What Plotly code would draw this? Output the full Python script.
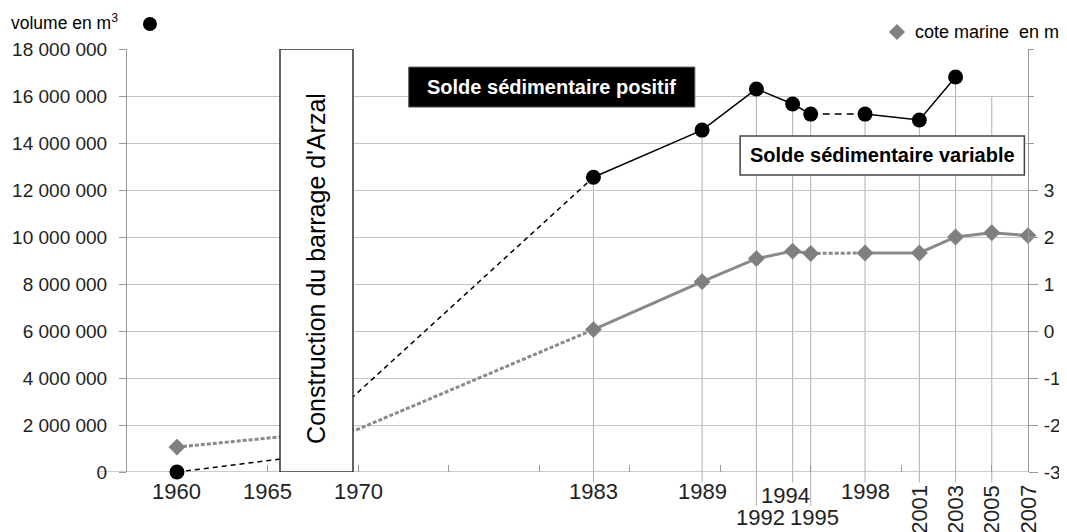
import plotly.graph_objects as go

# ---------------- data ----------------
vol_years = [1960, 1983, 1989, 1992, 1994, 1995, 1998, 2001, 2003]
vol_values = [0, 12540000, 14550000, 16300000, 15660000, 15230000, 15230000, 14980000, 16810000]
# vertex of the dashed link hidden behind the "Construction" box
vol_hidden_years = [1966]
vol_hidden_values = [580000]

cote_years = [1960, 1983, 1989, 1992, 1994, 1995, 1998, 2001, 2003, 2005, 2007]
cote_values = [-2.47, 0.03, 1.05, 1.54, 1.70, 1.65, 1.66, 1.66, 2.00, 2.09, 2.03]
cote_hidden_years = [1970]
cote_hidden_values = [-2.09]

y_tickvals = [0, 2000000, 4000000, 6000000, 8000000, 10000000, 12000000, 14000000, 16000000, 18000000]
y_ticktext = ["0", "2 000 000", "4 000 000", "6 000 000", "8 000 000", "10 000 000",
              "12 000 000", "14 000 000", "16 000 000", "18 000 000"]
y2_tickvals = [-3, -2, -1, 0, 1, 2, 3]
y2_ticktext = ["-3", "-2", "-1", "0", "1", "2", "3"]
y2_minor_ticks = [4, 5, 6]
x_minor_ticks = [1965, 1970, 1975, 1980, 1985, 1990, 1995, 2000, 2005]

xlabels_row1 = ["1960", "1965", "1970", "1983", "1989", "1998"]
xlabels_row1b = ["1994"]
xlabels_row2 = ["1992", "1995"]
xlabels_rot = ["2001", "2003", "2005", "2007"]

FONT = "Liberation Sans, Arial, sans-serif"
GRAY = "#7f7f7f"
LGRAY = "#8a8a8a"
GRID = "#c4c4c4"

fig = go.Figure()

def line(xs, ys, dash, color, width, yaxis):
    fig.add_trace(go.Scatter(
        x=xs, y=ys, mode="lines", yaxis=yaxis,
        line=dict(color=color, width=width, dash=dash), showlegend=False,
        hoverinfo="skip", cliponaxis=False))

# cote marine (right axis)
line([cote_years[0]] + cote_hidden_years + [cote_years[1]],
     [cote_values[0]] + cote_hidden_values + [cote_values[1]], "4px,2px", LGRAY, 3, "y2")
line(cote_years[1:6], cote_values[1:6], "solid", LGRAY, 3, "y2")
line(cote_years[5:7], cote_values[5:7], "4px,2px", LGRAY, 3, "y2")
line(cote_years[6:], cote_values[6:], "solid", LGRAY, 3, "y2")

# volume (left axis)
line([vol_years[0]] + vol_hidden_years + [vol_years[1]],
     [vol_values[0]] + vol_hidden_values + [vol_values[1]], "5px,4px", "black", 1.5, "y")
line(vol_years[1:6], vol_values[1:6], "solid", "black", 1.5, "y")
line(vol_years[5:7], vol_values[5:7], "7px,5px", "black", 1.5, "y")
line(vol_years[6:], vol_values[6:], "solid", "black", 1.5, "y")

shapes = []
# x-axis baseline
shapes.append(dict(type="line", xref="paper", yref="y", x0=-0.03, x1=1.0, y0=0, y1=0,
                   line=dict(color="#999999", width=1), layer="below"))
# vertical drop lines at measurement years
vol_map = dict(zip(vol_years, vol_values))
for yr in cote_years[1:-1]:
    top = vol_map.get(yr, 16000000)
    shapes.append(dict(type="line", xref="x", yref="y", x0=yr, x1=yr, y0=0, y1=top,
                       line=dict(color="#b0b0b0", width=1), layer="below"))
    ext = -0.08 if yr in (1992, 1995) else -0.025
    shapes.append(dict(type="line", xref="x", yref="paper", x0=yr, x1=yr, y0=0, y1=ext,
                       line=dict(color="#b0b0b0", width=1), layer="below"))

# Construction box (covers the dashed links)
shapes.append(dict(type="rect", xref="x", yref="y", x0=1965.69, x1=1969.72, y0=0, y1=18000000,
                   fillcolor="white", line=dict(color="#333333", width=1.5), layer="above"))
# Solde positif box
shapes.append(dict(type="rect", xref="x", yref="y", x0=1972.8, x1=1988.6, y0=15530000, y1=17230000,
                   fillcolor="black", line=dict(color="#555555", width=1), layer="above"))
# Solde variable box
shapes.append(dict(type="rect", xref="x", yref="y", x0=1991.1, x1=2006.8, y0=12640000, y1=14300000,
                   fillcolor="white", line=dict(color="#444444", width=1.5), layer="above"))

# legend markers
shapes.append(dict(type="circle", xref="paper", yref="paper", xsizemode="pixel", ysizemode="pixel",
                   xanchor=0.0255, yanchor=1.059, x0=-7, x1=7, y0=-7, y1=7,
                   fillcolor="black", line=dict(color="black", width=0)))
shapes.append(dict(type="path", xref="paper", yref="paper", xsizemode="pixel", ysizemode="pixel",
                   xanchor=0.8546, yanchor=1.040, path="M -8 0 L 0 8 L 8 0 L 0 -8 Z",
                   fillcolor=GRAY, line=dict(color=GRAY, width=0)))

# markers (drawn after shapes-above is irrelevant; markers are outside boxes)
fig.add_trace(go.Scatter(x=cote_years, y=cote_values, mode="markers", yaxis="y2",
                         marker=dict(symbol="diamond", size=13, color=GRAY),
                         showlegend=False, cliponaxis=False, name="cote marine en m"))
fig.add_trace(go.Scatter(x=vol_years, y=vol_values, mode="markers", yaxis="y",
                         marker=dict(symbol="circle", size=15, color="black"),
                         showlegend=False, cliponaxis=False, name="volume en m3"))

annotations = []
annotations.append(dict(text="volume en m<sup>3</sup>", xref="paper", yref="paper", x=-0.008, y=1.064,
                        xanchor="right", yanchor="middle", showarrow=False,
                        font=dict(family=FONT, size=17.5, color="black")))
annotations.append(dict(text="cote marine\u00a0\u00a0en m", xref="paper", yref="paper", x=0.8724, y=1.040,
                        xanchor="left", yanchor="middle", showarrow=False,
                        font=dict(family=FONT, size=18, color="black")))
annotations.append(dict(text="Construction du barrage d'Arzal", xref="x", yref="y", x=1967.70, y=8660000,
                        textangle=-90, showarrow=False, font=dict(family=FONT, size=25, color="black")))
annotations.append(dict(text="<b>Solde sédimentaire positif</b>", xref="x", yref="y", x=1980.7, y=16380000,
                        showarrow=False, font=dict(family=FONT, size=20, color="white")))
annotations.append(dict(text="<b>Solde sédimentaire variable</b>", xref="x", yref="y", x=1998.95, y=13470000,
                        showarrow=False, font=dict(family=FONT, size=20, color="black")))

xfont = dict(family=FONT, size=22, color="#222222")
for t in xlabels_row1:
    annotations.append(dict(text=t, xref="x", yref="paper", x=int(t), y=-0.047, showarrow=False,
                            xanchor="center", yanchor="middle", font=xfont))
for t in xlabels_row1b:
    annotations.append(dict(text=t, xref="x", yref="paper", x=int(t) - 0.4, y=-0.056, showarrow=False,
                            xanchor="center", yanchor="middle", font=xfont))
for t in xlabels_row2:
    annotations.append(dict(text=t, xref="x", yref="paper", x=int(t) + 0.2, y=-0.108, showarrow=False,
                            xanchor="center", yanchor="middle", font=xfont))
for t in xlabels_rot:
    annotations.append(dict(text=t, xref="x", yref="paper", x=int(t), y=-0.026, showarrow=False,
                            textangle=-90, xanchor="center", yanchor="top", font=xfont))

# page body has an 8px margin: size and margins compensate so the plot lands where the reference has it
fig.update_layout(
    width=1059, height=524,
    margin=dict(l=119, r=39, t=41, b=60, autoexpand=False),
    paper_bgcolor="white", plot_bgcolor="white",
    showlegend=False,
    shapes=shapes, annotations=annotations,
    xaxis=dict(range=[1957.24, 2007], showgrid=False, zeroline=False,
               tickvals=x_minor_ticks, showticklabels=False,
               ticks="inside", ticklen=7, tickcolor="#999999",
               showline=False, fixedrange=True),
    yaxis=dict(range=[0, 18000000], tickvals=y_tickvals, ticktext=y_ticktext,
               showgrid=True, gridcolor=GRID, gridwidth=1, zeroline=False,
               showline=True, linecolor="#999999", linewidth=1,
               ticks="outside", ticklen=7, tickcolor="#999999", ticklabelstandoff=8,
               tickfont=dict(family=FONT, size=19, color="#222222")),
    yaxis2=dict(range=[-3, 6], overlaying="y", side="right", tickvals=y2_tickvals, ticktext=y2_ticktext,
                showgrid=False, zeroline=False, showline=True, linecolor="#999999", linewidth=1,
                ticks="outside", ticklen=9, tickcolor="#999999", ticklabelstandoff=2,
                minor=dict(tickvals=y2_minor_ticks, ticks="outside", ticklen=5, tickcolor="#999999"),
                tickfont=dict(family=FONT, size=19, color="#222222")),
)

fig.write_html("out.html")
